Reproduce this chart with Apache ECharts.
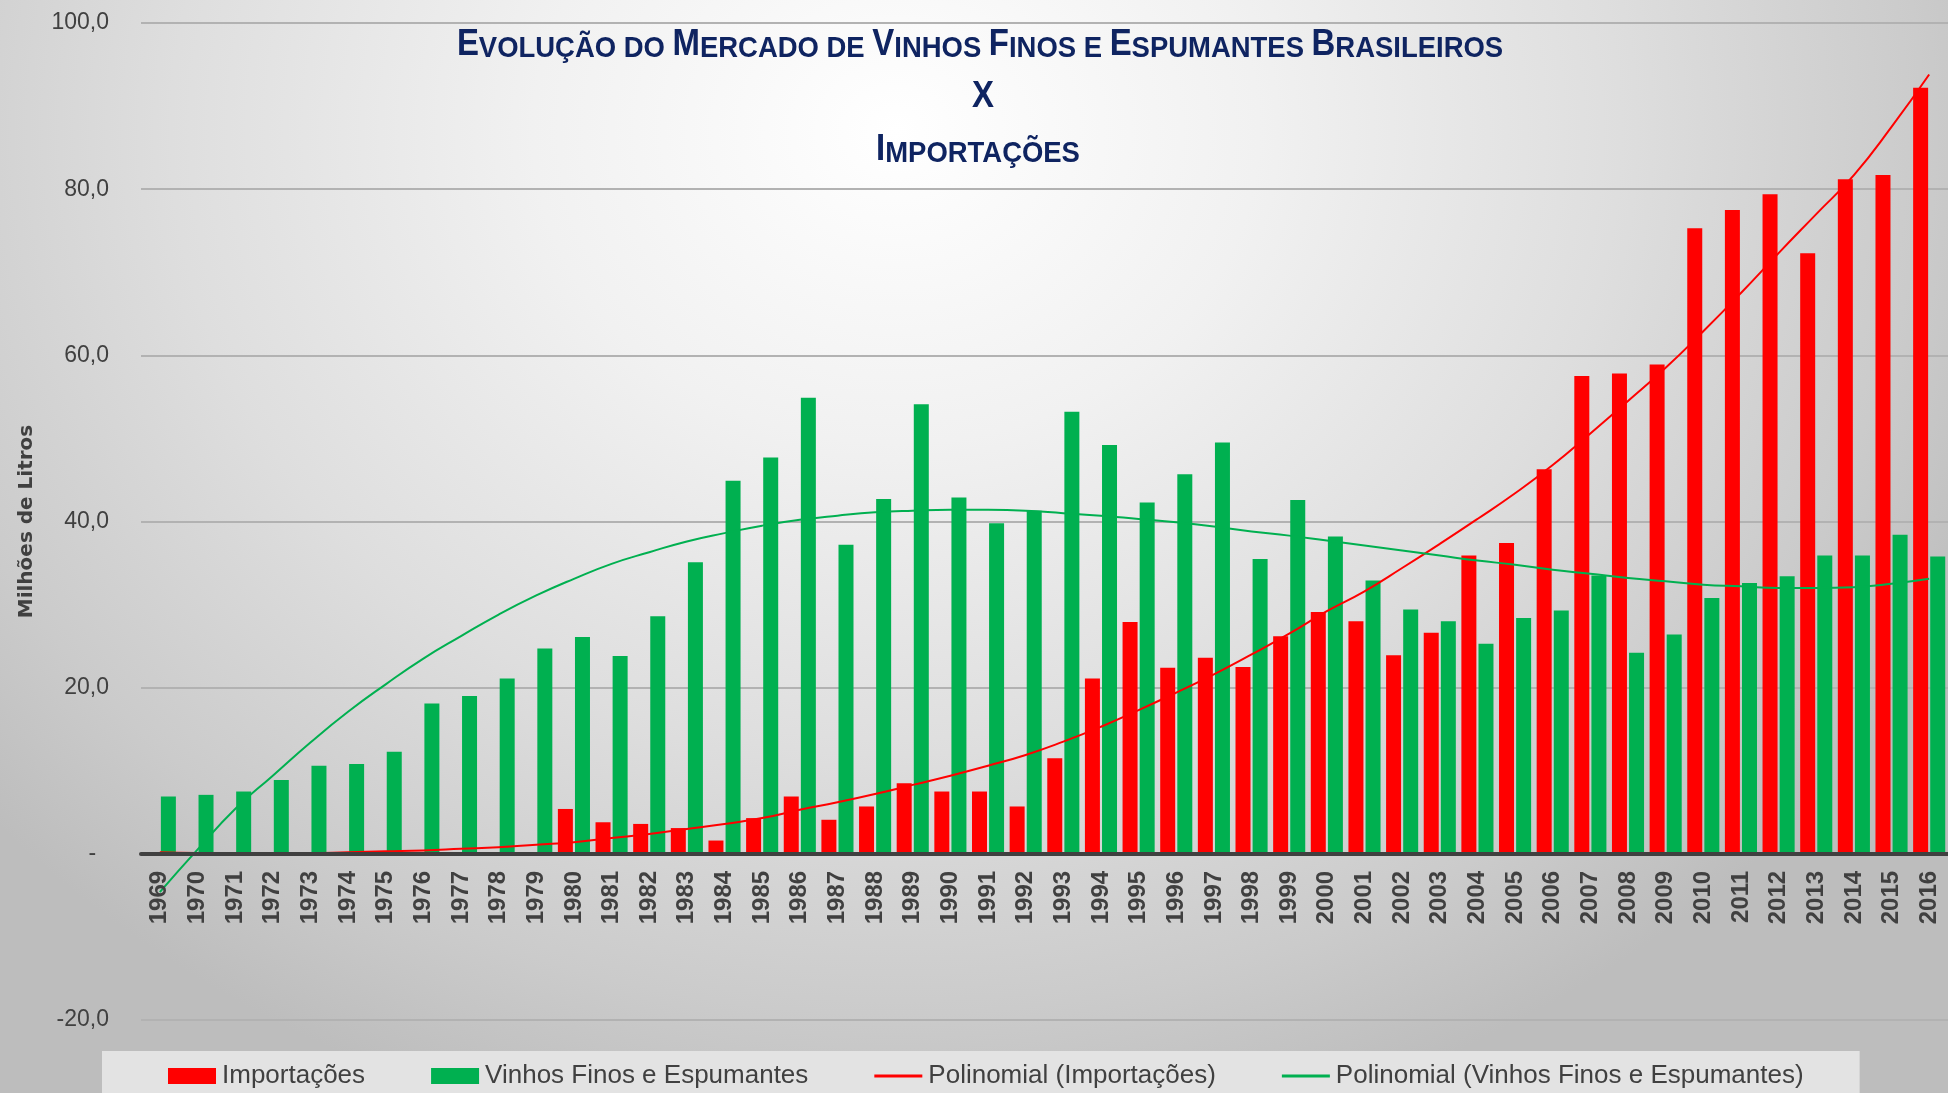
<!DOCTYPE html>
<html>
<head>
<meta charset="utf-8">
<script src="https://cdn.jsdelivr.net/npm/echarts@6/dist/echarts.min.js"></script>
<style>
html,body{margin:0;padding:0;}
#c{width:1948px;height:1093px;background:radial-gradient(ellipse 62% 95% at 46% 12%, #ffffff 0%, #f1f1f1 30%, #dedede 60%, #cbcbcb 85%, #bdbdbd 100%);}
</style>
</head>
<body>
<div id="c"></div>
<script>
const years = ['1969','1970','1971','1972','1973','1974','1975','1976','1977','1978',
  '1979','1980','1981','1982','1983','1984','1985','1986','1987','1988',
  '1989','1990','1991','1992','1993','1994','1995','1996','1997','1998',
  '1999','2000','2001','2002','2003','2004','2005','2006','2007','2008',
  '2009','2010','2011','2012','2013','2014','2015','2016'];

const importacoes = [0,0,0,0,0,0,0,0,0,0,
  0,5.4,3.8,3.6,3.1,1.6,4.3,6.9,4.1,5.7,
  8.5,7.5,7.5,5.7,11.5,21.1,27.9,22.4,23.6,22.5,
  26.2,29.1,28.0,23.9,26.6,35.9,37.4,46.3,57.5,57.8,
  58.9,75.3,77.5,79.4,72.3,81.2,81.7,92.2];

const vinhosFinos = [6.9,7.1,7.5,8.9,10.6,10.8,12.3,18.1,19.0,21.1,
  24.7,26.1,23.8,28.6,35.1,44.9,47.7,54.9,37.2,42.7,
  54.1,42.9,39.8,41.3,53.2,49.2,42.3,45.7,49.5,35.5,
  42.6,38.2,32.9,29.4,28.0,25.3,28.4,29.3,33.5,24.2,
  26.4,30.8,32.6,33.4,35.9,35.9,38.4,35.8];

const trendImportacoes = [0.2,0.1,0.1,0.1,0.1,0.2,0.3,0.4,0.6,0.8,
  1.1,1.4,1.9,2.4,3.0,3.6,4.3,5.3,6.2,7.2,
  8.3,9.4,10.6,11.9,13.5,15.3,17.3,19.4,21.6,24.0,
  26.5,29.2,31.6,34.4,37.3,40.3,43.4,46.8,50.6,54.5,
  58.5,62.9,67.5,72.3,77.0,81.7,87.5,93.8];

const trendVinhos = [-4.6,0.5,5.4,9.4,13.4,17.1,20.4,23.5,26.2,28.8,
  31.1,33.1,34.9,36.3,37.6,38.6,39.5,40.2,40.7,41.1,
  41.3,41.4,41.4,41.3,41.0,40.7,40.3,39.9,39.4,38.8,
  38.3,37.7,37.1,36.5,35.9,35.3,34.8,34.2,33.7,33.2,
  32.8,32.4,32.2,32.0,32.0,32.1,32.5,33.1];

const yTicks = {min: -20, max: 100, interval: 20};

const seriesNames = ['Importações', 'Vinhos Finos e Espumantes',
  'Polinomial (Importações)', 'Polinomial (Vinhos Finos e Espumantes)'];

const RED = '#ff0000', GREEN = '#00b050', NAVY = '#0f2461', GREY = '#404040';
const SANS = '"Liberation Sans", Arial, sans-serif';

const GRID_TOP = 23, GRID_H = 997;
const zeroOffset = -GRID_H * (0 - yTicks.min) / (yTicks.max - yTicks.min);

const chart = echarts.init(document.getElementById('c'), null, {renderer: 'canvas'});

function capsRich(big, small) {
  return {
    b: {fontSize: big, fontWeight: 'bold', fontFamily: SANS, fill: NAVY, verticalAlign: 'bottom', lineHeight: 44},
    s: {fontSize: small, fontWeight: 'bold', fontFamily: SANS, fill: NAVY, verticalAlign: 'bottom', lineHeight: 44}
  };
}

const line1 = '{b|E}{s|VOLUÇÃO DO }{b|M}{s|ERCADO DE }{b|V}{s|INHOS }{b|F}{s|INOS E }{b|E}{s|SPUMANTES }{b|B}{s|RASILEIROS}';
const line2 = '{b|X}';
const line3 = '{b|I}{s|MPORTAÇÕES}';
const SX = 0.915;
const linePath = 'path://M0,0H48V3H0Z';

chart.setOption({
  backgroundColor: 'transparent',
  animation: false,
  grid: {left: 141, top: GRID_TOP, width: 1812, height: GRID_H, containLabel: false},
  graphic: [
    {type: 'text', x: 980, y: 41.5, scaleX: SX, style: {text: line1, rich: capsRich(36, 30), align: 'center', verticalAlign: 'middle'}},
    {type: 'text', x: 983, y: 93.5, scaleX: SX, style: {text: line2, rich: capsRich(36, 30), align: 'center', verticalAlign: 'middle'}},
    {type: 'text', x: 978, y: 146.5, scaleX: SX, style: {text: line3, rich: capsRich(36, 30), align: 'center', verticalAlign: 'middle'}}
  ],
  legend: {
    data: [
      {name: seriesNames[0], icon: 'rect'},
      {name: seriesNames[1], icon: 'rect'},
      {name: seriesNames[2], icon: linePath},
      {name: seriesNames[3], icon: linePath}
    ],
    left: 102, top: 1051, width: 1840,
    padding: [12, 56, 14, 66],
    backgroundColor: '#e3e3e3',
    itemGap: 66,
    itemWidth: 48, itemHeight: 16,
    symbolKeepAspect: true,
    textStyle: {fontFamily: SANS, fontSize: 26, color: GREY, padding: [0, 0, 0, 1]},
    selectedMode: false
  },
  xAxis: {
    type: 'category',
    data: years,
    boundaryGap: true,
    offset: zeroOffset,
    z: 10,
    axisLine: {onZero: false, lineStyle: {color: GREY, width: 4}},
    axisTick: {show: false},
    axisLabel: {rotate: 90, interval: 0, margin: 17, color: GREY, fontFamily: SANS, fontWeight: 'bold', fontSize: 24},
    splitLine: {show: false}
  },
  yAxis: {
    type: 'value',
    min: yTicks.min, max: yTicks.max, interval: yTicks.interval,
    name: 'Milhões de Litros',
    nameLocation: 'middle',
    nameGap: 104,
    nameRotate: 90,
    nameTextStyle: {fontFamily: '"DejaVu Sans", Verdana, sans-serif', fontWeight: 'bold', fontSize: 20, color: GREY},
    axisLine: {show: false},
    axisTick: {show: false},
    axisLabel: {
      margin: 32, color: GREY, fontFamily: SANS, fontSize: 23,
      formatter: v => v === 0 ? '-  ' : v.toFixed(1).replace('.', ',')
    },
    splitLine: {lineStyle: {color: '#b2b2b2', width: 2}}
  },
  series: [
    {name: seriesNames[0], type: 'bar', data: importacoes, barWidth: 15, barGap: '14%',
     itemStyle: {color: RED}, z: 2},
    {name: seriesNames[1], type: 'bar', data: vinhosFinos, barWidth: 15, barGap: '14%',
     itemStyle: {color: GREEN}, z: 2},
    {name: seriesNames[2], type: 'line', data: trendImportacoes, smooth: true, symbol: 'none', showSymbol: false,
     lineStyle: {color: RED, width: 2}, itemStyle: {color: RED}, z: 5},
    {name: seriesNames[3], type: 'line', data: trendVinhos, smooth: true, symbol: 'none', showSymbol: false,
     lineStyle: {color: GREEN, width: 2}, itemStyle: {color: GREEN}, z: 5}
  ]
});
</script>
</body>
</html>
